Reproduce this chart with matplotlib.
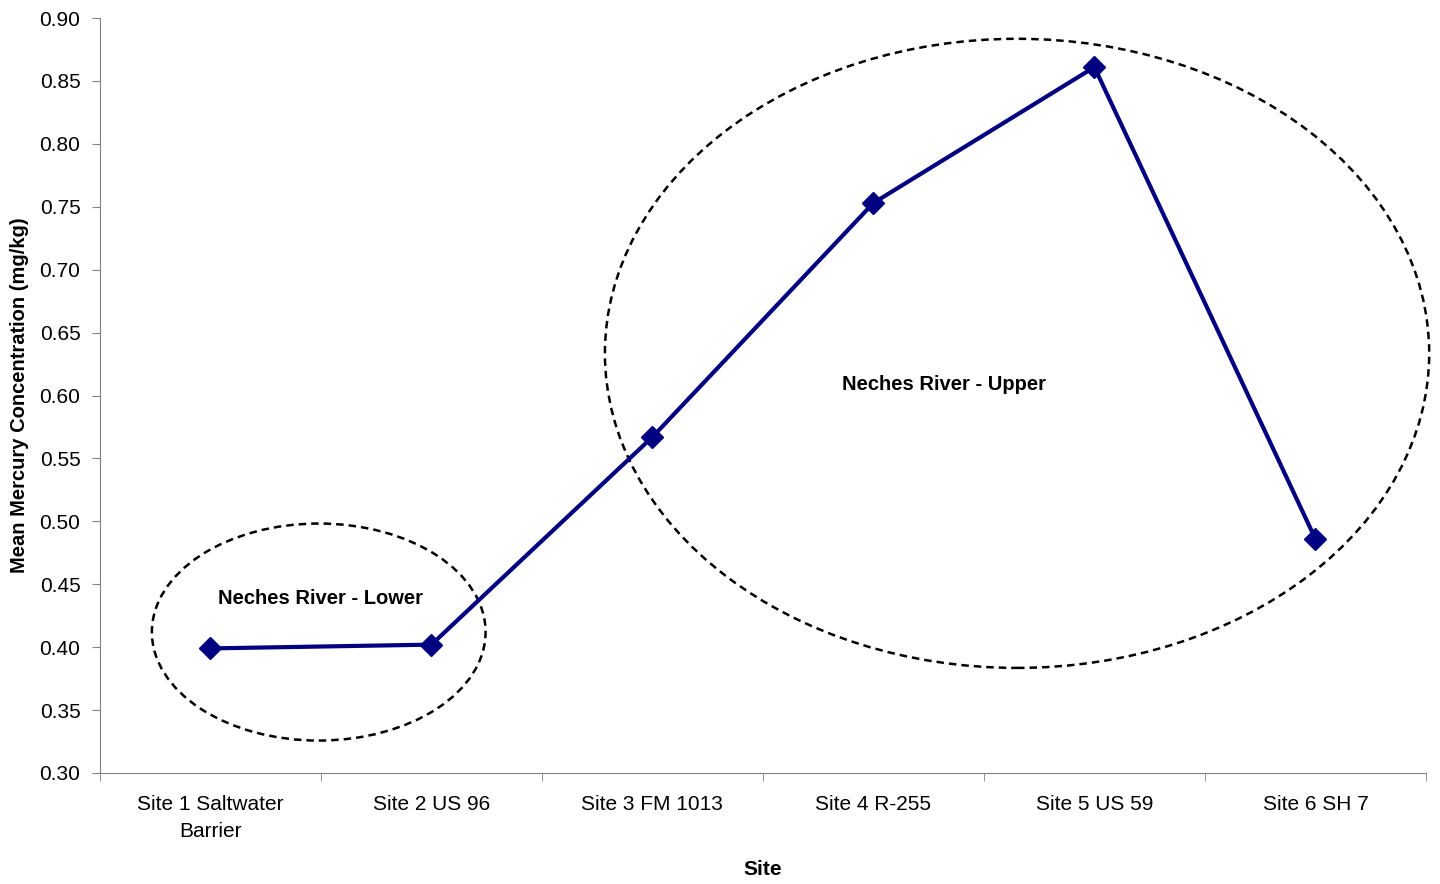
import matplotlib
matplotlib.use('Agg')
import matplotlib.pyplot as plt
from matplotlib.patches import Ellipse
from matplotlib.ticker import FixedLocator, MultipleLocator

plt.rcParams['font.family'] = ['Liberation Sans', 'DejaVu Sans']

sites = ['Site 1 Saltwater\nBarrier', 'Site 2 US 96', 'Site 3 FM 1013',
         'Site 4 R-255', 'Site 5 US 59', 'Site 6 SH 7']
mercury = [0.399, 0.402, 0.567, 0.753, 0.861, 0.486]

# 分组圈：中心(x, y)、宽、高，x 按类别序号
groups = ['Neches River - Lower', 'Neches River - Upper']
group_centers = [(0.49, 0.412), (3.65, 0.6335)]
group_sizes = [(1.51, 0.1725), (3.73, 0.50)]
label_pos = [(0.50, 0.439), (3.32, 0.609)]

fig = plt.figure(figsize=(14.4, 8.84), dpi=100)
ax = fig.add_axes([0.0694, 0.1256, 0.9208, 0.854])

x = list(range(len(sites)))
ax.plot(x, mercury, color='#000080', lw=3, marker='D', markersize=11, zorder=3)

for (cx, cy), (w, h), name, (tx, ty) in zip(group_centers, group_sizes, groups, label_pos):
    e = Ellipse((cx, cy), w, h, fill=False, edgecolor='black', lw=1.8,
                linestyle=(0, (3, 2)), clip_on=False, zorder=2)
    ax.add_patch(e)
    ax.text(tx, ty, name, ha='center', va='center', fontsize=14.5, fontweight='bold')

ax.set_xlim(-0.5, len(sites) - 0.5)
ax.set_ylim(0.30, 0.90)
ax.yaxis.set_major_locator(MultipleLocator(0.05))
ax.yaxis.set_major_formatter(plt.FuncFormatter(lambda v, p: f'{v:.2f}'))

ax.set_xticks(x)
ax.set_xticklabels(sites, linespacing=1.5)
ax.xaxis.set_minor_locator(FixedLocator([i - 0.5 for i in range(len(sites) + 1)]))
ax.tick_params(axis='x', which='major', length=0, pad=16, labelsize=15)
ax.tick_params(axis='x', which='minor', length=6, color='#808080')
ax.tick_params(axis='y', length=6, color='#808080', pad=8, labelsize=15)

for s in ['top', 'right']:
    ax.spines[s].set_visible(False)
for s in ['left', 'bottom']:
    ax.spines[s].set_color('#808080')

ax.set_xlabel('Site', fontsize=15, fontweight='bold', labelpad=14)
ax.set_ylabel('Mean Mercury Concentration (mg/kg)', fontsize=14.5, fontweight='bold')
ax.yaxis.set_label_coords(-0.0535, 0.5)

fig.savefig('out.png', dpi=100)
